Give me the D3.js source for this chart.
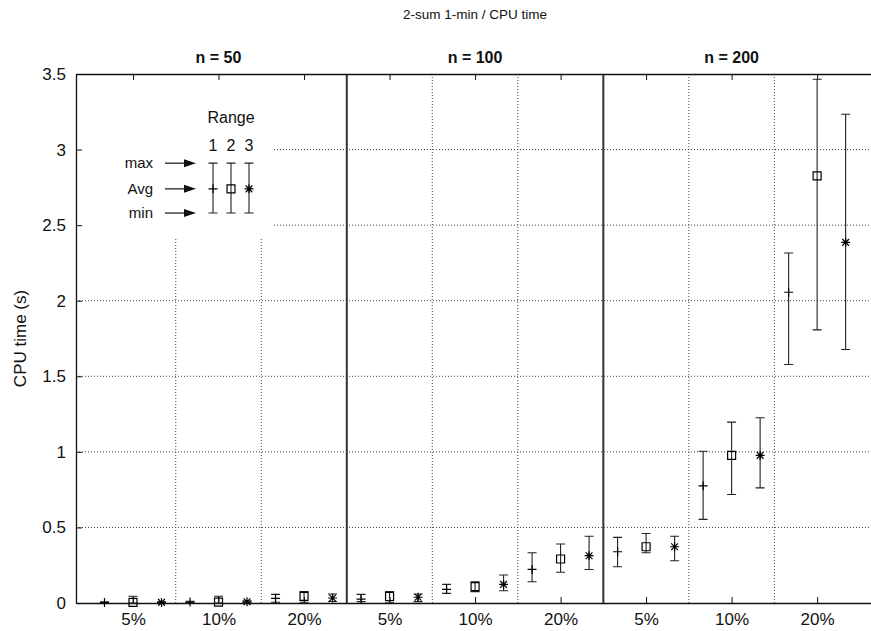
<!DOCTYPE html>
<html>
<head>
<meta charset="utf-8">
<script src="https://cdn.jsdelivr.net/npm/d3@7"></script>
<style>
  body { margin: 0; background: #fff; }
  text { font-family: "Liberation Sans", Arial, Helvetica, sans-serif; fill: #111; }
</style>
</head>
<body>
<div id="chart"></div>
<script>
// datos
const panels = ["n = 50", "n = 100", "n = 200"];
const groups = ["5%", "10%", "20%"];
const rangeNames = ["1", "2", "3"];
const yTicks = [0, 0.5, 1, 1.5, 2, 2.5, 3, 3.5];

// 9 grupos: (n=50: 5,10,20%), (n=100: ...), (n=200: ...)
const avg1 = [0.003, 0.006, 0.031, 0.025, 0.090, 0.222, 0.339, 0.775, 2.056];
const max1 = [0.008, 0.012, 0.057, 0.057, 0.123, 0.332, 0.434, 1.004, 2.316];
const min1 = [0.000, 0.001, 0.005, 0.009, 0.064, 0.141, 0.240, 0.553, 1.578];

const avg2 = [0.004, 0.006, 0.044, 0.043, 0.108, 0.291, 0.372, 0.977, 2.826];
const max2 = [0.045, 0.045, 0.075, 0.075, 0.141, 0.390, 0.460, 1.197, 3.465];
const min2 = [0.000, 0.000, 0.005, 0.005, 0.075, 0.203, 0.332, 0.718, 1.807];

const avg3 = [0.004, 0.008, 0.033, 0.038, 0.123, 0.313, 0.372, 0.977, 2.386];
const max3 = [0.008, 0.015, 0.060, 0.060, 0.185, 0.442, 0.442, 1.226, 3.234];
const min3 = [0.000, 0.002, 0.010, 0.009, 0.081, 0.222, 0.280, 0.762, 1.677];

// leyenda (en unidades del eje y)
const legendMax = 2.91, legendAvg = 2.74, legendMin = 2.58;
const legendLabels = ["max", "Avg", "min"];

const width = 871;
const height = 631;
const margin = { top: 74, right: 0, bottom: 28, left: 76 };

const svg = d3.select("#chart")
  .append("svg")
  .attr("width", width)
  .attr("height", height);

const x = d3.scaleLinear()
  .domain([-2 / 3, 8.63])
  .range([margin.left, width - margin.right]);

const y = d3.scaleLinear()
  .domain([0, 3.5])
  .range([height - margin.bottom, margin.top]);

const offset = 1 / 3;
const series = [
  { avg: avg1, max: max1, min: min1, shape: "plus", dx: -offset },
  { avg: avg2, max: max2, min: min2, shape: "square", dx: 0 },
  { avg: avg3, max: max3, min: min3, shape: "star", dx: offset }
];

// rejilla horizontal
svg.append("g")
  .selectAll("line")
  .data(yTicks.filter(d => d > 0 && d < 3.5))
  .enter()
  .append("line")
  .attr("x1", x.range()[0])
  .attr("x2", x.range()[1])
  .attr("y1", d => y(d))
  .attr("y2", d => y(d))
  .attr("stroke", "#444")
  .attr("stroke-width", 1)
  .attr("stroke-dasharray", "1,2");

// rejilla vertical entre grupos
const groupEdges = [0.5, 1.5, 3.5, 4.5, 6.5, 7.5];
svg.append("g")
  .selectAll("line")
  .data(groupEdges)
  .enter()
  .append("line")
  .attr("x1", d => x(d))
  .attr("x2", d => x(d))
  .attr("y1", y(0))
  .attr("y2", y(3.5))
  .attr("stroke", "#444")
  .attr("stroke-width", 1)
  .attr("stroke-dasharray", "1,2");

// separadores de paneles
svg.append("g")
  .selectAll("line")
  .data([2.5, 5.5])
  .enter()
  .append("line")
  .attr("x1", d => x(d))
  .attr("x2", d => x(d))
  .attr("y1", y(0))
  .attr("y2", y(3.5))
  .attr("stroke", "#333")
  .attr("stroke-width", 2);

// caja blanca de la leyenda
svg.append("rect")
  .attr("x", x.range()[0] + 1)
  .attr("y", y(3.5) + 1)
  .attr("width", 196)
  .attr("height", 162)
  .attr("fill", "#fff");

// ejes
const groupCenters = d3.range(9);
const xBottom = d3.axisBottom(x)
  .tickValues(groupCenters)
  .tickFormat(i => groups[i % 3])
  .tickSizeInner(-6)
  .tickSizeOuter(0)
  .tickPadding(10);

const xTop = d3.axisTop(x)
  .tickValues(groupCenters)
  .tickFormat("")
  .tickSizeInner(-6)
  .tickSizeOuter(0);

const yLeft = d3.axisLeft(y)
  .tickValues(yTicks)
  .tickFormat(d3.format("~g"))
  .tickSizeInner(-6)
  .tickSizeOuter(0)
  .tickPadding(10);

const gx = svg.append("g")
  .attr("transform", `translate(0,${y(0)})`)
  .call(xBottom);

const gxt = svg.append("g")
  .attr("transform", `translate(0,${y(3.5)})`)
  .call(xTop);

const gy = svg.append("g")
  .attr("transform", `translate(${x.range()[0]},0)`)
  .call(yLeft);

[gx, gxt, gy].forEach(g => {
  g.select(".domain").attr("stroke", "#111").attr("stroke-width", 1.3);
  g.selectAll(".tick line").attr("stroke", "#111");
  g.selectAll(".tick text")
    .style("font-family", "'Liberation Sans', Arial, sans-serif")
    .style("font-size", "17px")
    .attr("fill", "#111");
});

// barras de error
const capW = 4.5;
const barColor = "#222";

series.forEach(s => {
  const g = svg.append("g");
  const pts = s.avg.map((v, i) => ({ i: i, avg: v, max: s.max[i], min: s.min[i] }));
  const px = d => x(d.i + s.dx);

  g.selectAll(".bar")
    .data(pts)
    .enter()
    .append("path")
    .attr("fill", "none")
    .attr("stroke", barColor)
    .attr("stroke-width", 1.1)
    .attr("d", d => {
      const cx = px(d), t = y(d.max), b = y(d.min);
      return `M${cx},${t}V${b}M${cx - capW},${t}H${cx + capW}M${cx - capW},${b}H${cx + capW}`;
    });

  g.selectAll(".mark")
    .data(pts)
    .enter()
    .append("path")
    .attr("fill", "none")
    .attr("stroke", "#000")
    .attr("stroke-width", 1.2)
    .attr("d", d => marker(s.shape, px(d), y(d.avg)));
});

function marker(shape, cx, cy) {
  const r = 4.5;
  if (shape === "plus") {
    return `M${cx - r},${cy}H${cx + r}M${cx},${cy - r}V${cy + r}`;
  }
  if (shape === "square") {
    return `M${cx - 4},${cy - 4}h8v8h-8Z`;
  }
  const k = r * 0.75;
  return `M${cx - r},${cy}H${cx + r}M${cx},${cy - r}V${cy + r}` +
    `M${cx - k},${cy - k}L${cx + k},${cy + k}M${cx - k},${cy + k}L${cx + k},${cy - k}`;
}

// leyenda
const legendX = [213, 231, 249];
const legend = svg.append("g");

legend.append("text")
  .attr("x", 231)
  .attr("y", 123)
  .attr("text-anchor", "middle")
  .style("font-size", "16px")
  .text("Range");

legend.selectAll(".num")
  .data(rangeNames)
  .enter()
  .append("text")
  .attr("x", (d, i) => legendX[i])
  .attr("y", 151)
  .attr("text-anchor", "middle")
  .style("font-size", "16px")
  .text(d => d);

series.forEach((s, i) => {
  const cx = legendX[i], t = y(legendMax), b = y(legendMin);
  legend.append("path")
    .attr("fill", "none")
    .attr("stroke", barColor)
    .attr("stroke-width", 1.1)
    .attr("d", `M${cx},${t}V${b}M${cx - capW},${t}H${cx + capW}M${cx - capW},${b}H${cx + capW}`);
  legend.append("path")
    .attr("fill", "none")
    .attr("stroke", "#000")
    .attr("stroke-width", 1.2)
    .attr("d", marker(s.shape, cx, y(legendAvg)));
});

const legendVals = [legendMax, legendAvg, legendMin];
legendVals.forEach((v, i) => {
  const yy = y(v);
  legend.append("text")
    .attr("x", 153)
    .attr("y", yy + 5)
    .attr("text-anchor", "end")
    .style("font-size", "15px")
    .text(legendLabels[i]);
  legend.append("line")
    .attr("x1", 165)
    .attr("x2", 184)
    .attr("y1", yy)
    .attr("y2", yy)
    .attr("stroke", "#111")
    .attr("stroke-width", 1.2);
  legend.append("path")
    .attr("d", `M184,${yy - 4}L196,${yy}L184,${yy + 4}Z`)
    .attr("fill", "#111");
});

// titulo y etiquetas
svg.append("text")
  .attr("x", 475)
  .attr("y", 19)
  .attr("text-anchor", "middle")
  .style("font-size", "13.5px")
  .text("2-sum 1-min / CPU time");

svg.selectAll(".panel")
  .data(panels)
  .enter()
  .append("text")
  .attr("x", (d, i) => x(i * 3 + 1))
  .attr("y", 63)
  .attr("text-anchor", "middle")
  .style("font-size", "16px")
  .style("font-weight", "bold")
  .text(d => d);

svg.append("text")
  .attr("transform", `translate(26,${(y(0) + y(3.5)) / 2}) rotate(-90)`)
  .attr("text-anchor", "middle")
  .style("font-size", "17px")
  .text("CPU time (s)");
</script>
</body>
</html>
